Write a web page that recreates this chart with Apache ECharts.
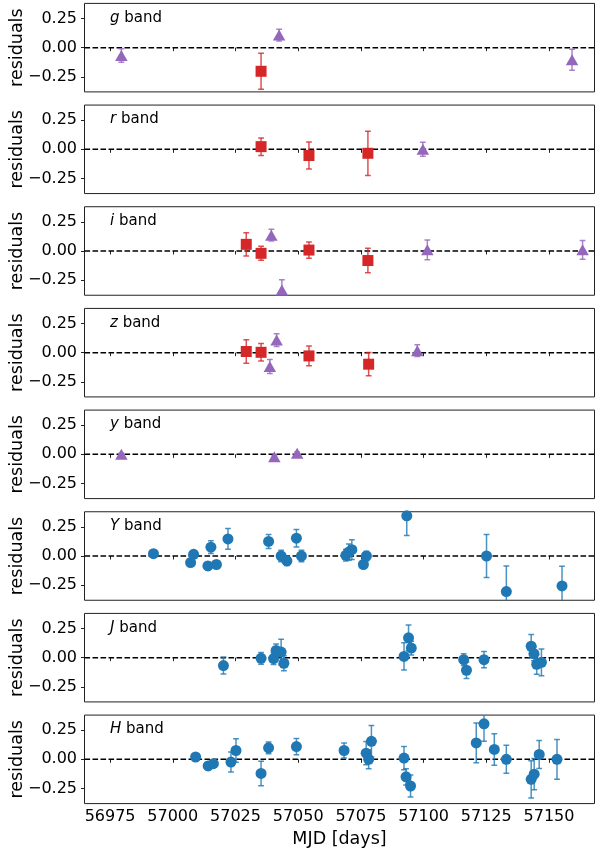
<!DOCTYPE html>
<html>
<head>
<meta charset="utf-8">
<script src="https://cdn.jsdelivr.net/npm/echarts@6/dist/echarts.min.js"></script>
<style>
  html, body { margin: 0; padding: 0; background: #fff; }
  #chart { width: 596px; height: 848px; }
</style>
</head>
<body>
<div id="chart"></div>
<script>
// Light-curve fit residuals per photometric band: [MJD, residual, 1-sigma error]
const bandNames = ['g', 'r', 'i', 'z', 'y', 'Y', 'J', 'H'];

const gSquares = [[57035.2, -0.203, 0.155]];
const gTriangles = [[56979.5, -0.067, 0.058], [57042.4, 0.108, 0.05], [57159.2, -0.104, 0.09]];

const rSquares = [[57035.2, 0.023, 0.075], [57054.3, -0.053, 0.115], [57077.8, -0.034, 0.19]];
const rTriangles = [[57099.7, 0.0, 0.06]];

const iSquares = [[57029.3, 0.057, 0.1], [57035.2, -0.02, 0.06], [57054.3, 0.008, 0.07], [57077.8, -0.082, 0.105]];
const iTriangles = [[57039.3, 0.136, 0.05], [57043.5, -0.336, 0.09], [57101.5, 0.01, 0.085], [57163.4, 0.01, 0.08]];

const zSquares = [[57029.3, 0.01, 0.1], [57035.2, 0.003, 0.075], [57054.3, -0.028, 0.085], [57078.1, -0.099, 0.1]];
const zTriangles = [[57038.7, -0.119, 0.06], [57041.4, 0.108, 0.055], [57097.5, 0.017, 0.05]];

const ySquares = [];
const yTriangles = [[56979.5, 0.0, 0.01], [57040.5, -0.02, 0.01], [57049.6, 0.01, 0.01]];

const YCircles = [
  [56992.3, 0.02, 0.03], [57007.1, -0.056, 0.03], [57008.3, 0.014, 0.03], [57014.0, -0.085, 0.03],
  [57015.2, 0.076, 0.055], [57017.4, -0.073, 0.03], [57022.0, 0.147, 0.09], [57038.2, 0.125, 0.06],
  [57043.2, 0.0, 0.05], [57045.5, -0.042, 0.04], [57049.3, 0.153, 0.075], [57051.3, 0.0, 0.05],
  [57069.0, 0.006, 0.05], [57070.2, 0.034, 0.07], [57071.4, 0.054, 0.085], [57076.0, -0.073, 0.03],
  [57077.2, 0.0, 0.04], [57093.3, 0.345, 0.17], [57125.1, 0.0, 0.185], [57133.0, -0.305, 0.22],
  [57155.2, -0.257, 0.17]
];

const JCircles = [
  [57020.2, -0.068, 0.073], [57035.2, -0.006, 0.05], [57040.2, -0.008, 0.05], [57041.2, 0.062, 0.055],
  [57043.2, 0.048, 0.11], [57044.3, -0.048, 0.065], [57092.2, 0.011, 0.117], [57094.0, 0.17, 0.11],
  [57095.1, 0.082, 0.06], [57116.0, -0.017, 0.05], [57117.1, -0.108, 0.07], [57124.1, -0.017, 0.07],
  [57142.9, 0.098, 0.1], [57144.0, 0.034, 0.06], [57145.1, -0.057, 0.085], [57147.0, -0.04, 0.115]
];

const HCircles = [
  [57009.1, 0.02, 0.03], [57014.1, -0.057, 0.03], [57016.2, -0.037, 0.03], [57023.2, -0.023, 0.085],
  [57025.2, 0.076, 0.1], [57035.2, -0.121, 0.105], [57038.2, 0.099, 0.05], [57049.3, 0.11, 0.07],
  [57068.3, 0.076, 0.065], [57077.1, 0.053, 0.1], [57078.1, 0.0, 0.08], [57079.2, 0.155, 0.135],
  [57092.2, 0.011, 0.1], [57093.0, -0.15, 0.07], [57094.8, -0.229, 0.095], [57121.0, 0.141, 0.17],
  [57124.1, 0.305, 0.15], [57128.2, 0.085, 0.135], [57133.0, 0.0, 0.12], [57142.9, -0.172, 0.16],
  [57144.1, -0.127, 0.135], [57146.1, 0.042, 0.12], [57153.2, 0.0, 0.17]
];

const xTicks = [56975, 57000, 57025, 57050, 57075, 57100, 57125, 57150];
const yTicks = [-0.25, 0, 0.25];

// Marker groups per panel: [data, color, symbol, size]
const panels = [
  [[gSquares, '#d62728', 'rect', 11], [gTriangles, '#9467bd', 'triangle', [12.5, 11]]],
  [[rSquares, '#d62728', 'rect', 11], [rTriangles, '#9467bd', 'triangle', [12.5, 11]]],
  [[iSquares, '#d62728', 'rect', 11], [iTriangles, '#9467bd', 'triangle', [12.5, 11]]],
  [[zSquares, '#d62728', 'rect', 11], [zTriangles, '#9467bd', 'triangle', [12.5, 11]]],
  [[ySquares, '#d62728', 'rect', 11], [yTriangles, '#9467bd', 'triangle', [12.5, 11]]],
  [[YCircles, '#1f77b4', 'circle', 11]],
  [[JCircles, '#1f77b4', 'circle', 11]],
  [[HCircles, '#1f77b4', 'circle', 11]]
];

const FONT = 'DejaVu Sans';
const X_MIN = 56964.8, X_MAX = 57168.15;
const Y_MIN = -0.38, Y_MAX = 0.38;
const GRID_LEFT = 84.5, GRID_WIDTH = 510;
const TOP0 = 3.4, STEP = 101.67, HEIGHT = 88.5;

function fmtY(v) {
  const s = Math.abs(v).toFixed(2);
  return v < 0 ? '\u2212' + s : s;
}

// Vertical error bar with caps
function errorBarRenderer(color) {
  return function (params, api) {
    const x = api.value(0), y = api.value(1), e = api.value(2);
    const top = api.coord([x, y + e]);
    const bot = api.coord([x, y - e]);
    const cap = 2.9;
    const style = { stroke: color, lineWidth: 1.5, opacity: 0.8 };
    return {
      type: 'group',
      children: [
        { type: 'line', shape: { x1: top[0], y1: top[1], x2: bot[0], y2: bot[1] }, style },
        { type: 'line', shape: { x1: top[0] - cap, y1: top[1], x2: top[0] + cap, y2: top[1] }, style },
        { type: 'line', shape: { x1: bot[0] - cap, y1: bot[1], x2: bot[0] + cap, y2: bot[1] }, style }
      ]
    };
  };
}

const grids = [], xAxes = [], yAxes = [], series = [], graphics = [];

panels.forEach((groups, k) => {
  const top = TOP0 + k * STEP;
  const last = k === panels.length - 1;
  grids.push({
    left: GRID_LEFT, top: top, width: GRID_WIDTH, height: HEIGHT,
    outerBoundsMode: 'none', containLabel: false,
    show: true, borderColor: '#222', borderWidth: 1, backgroundColor: 'transparent'
  });
  xAxes.push({
    type: 'value', gridIndex: k, min: X_MIN, max: X_MAX,
    axisLine: { show: false },
    splitLine: { show: false },
    axisTick: { show: true, length: 3.5, lineStyle: { color: '#222', width: 1 }, customValues: xTicks },
    axisLabel: {
      show: last, customValues: xTicks, margin: 5.5,
      fontFamily: FONT, fontSize: 16, color: '#000',
      formatter: v => String(v)
    },
    name: last ? 'MJD [days]' : '',
    nameLocation: 'middle', nameGap: 27, nameMoveOverlap: false,
    nameTextStyle: { fontFamily: FONT, fontSize: 17.5, color: '#000' }
  });
  yAxes.push({
    type: 'value', gridIndex: k, min: Y_MIN, max: Y_MAX,
    axisLine: { show: false },
    splitLine: { show: false },
    axisTick: { show: true, length: 3.5, lineStyle: { color: '#222', width: 1 }, customValues: yTicks },
    axisLabel: {
      customValues: yTicks, margin: 7.5,
      fontFamily: FONT, fontSize: 16, color: '#000',
      formatter: v => fmtY(v)
    },
    name: 'residuals', nameLocation: 'middle', nameGap: 58, nameRotate: 90, nameMoveOverlap: false,
    nameTextStyle: { fontFamily: FONT, fontSize: 17.5, color: '#000' }
  });

  // zero reference line
  series.push({
    type: 'line', xAxisIndex: k, yAxisIndex: k,
    data: [[X_MIN, 0], [X_MAX, 0]],
    symbol: 'none', silent: true, z: 1, animation: false,
    lineStyle: { color: '#000', width: 1.5, type: [5.6, 2.4] }
  });

  groups.forEach(([data, color, symbol, size]) => {
    series.push({
      type: 'custom', xAxisIndex: k, yAxisIndex: k,
      data: data, renderItem: errorBarRenderer(color),
      z: 2, silent: true, animation: false, clip: true
    });
    series.push({
      type: 'scatter', xAxisIndex: k, yAxisIndex: k,
      data: data.map(d => [d[0], d[1]]),
      symbol: symbol, symbolSize: size,
      itemStyle: { color: color, opacity: 1 },
      z: 3, silent: true, animation: false, clip: true
    });
  });

  graphics.push({
    type: 'text', x: 110, y: top + 14.5,
    style: {
      text: '{it|' + bandNames[k] + '} band',
      fontFamily: FONT, fontSize: 15, fill: '#000', verticalAlign: 'middle',
      rich: { it: { fontFamily: FONT, fontSize: 15, fontStyle: 'italic', fill: '#000' } }
    }
  });
});

const chart = echarts.init(document.getElementById('chart'), null, { renderer: 'canvas' });
chart.setOption({
  animation: false,
  backgroundColor: '#fff',
  grid: grids,
  xAxis: xAxes,
  yAxis: yAxes,
  series: series,
  graphic: graphics
});
</script>
</body>
</html>
